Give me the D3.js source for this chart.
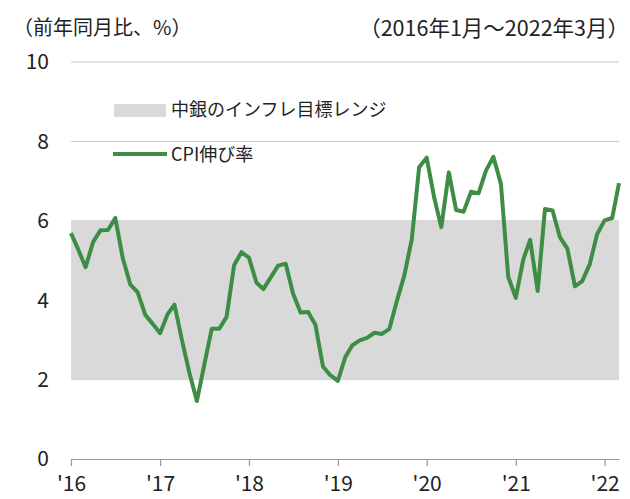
<!DOCTYPE html>
<html>
<head>
<meta charset="utf-8">
<script src="https://cdn.jsdelivr.net/npm/d3@7"></script>
<style>
  body { margin: 0; background: #fff; }
  svg { display: block; font-family: "Noto Sans CJK JP", "Noto Sans", sans-serif; }
</style>
</head>
<body>
<div id="chart"></div>
<script>
// monthly CPI, Jan 2016 .. Mar 2022
const startYear = 2016;
const cpi = [
  5.69, 5.26, 4.83, 5.47, 5.76, 5.77, 6.07, 5.05, 4.39, 4.20, 3.63, 3.41,
  3.17, 3.65, 3.89, 2.99, 2.18, 1.46, 2.36, 3.28, 3.28, 3.58, 4.88, 5.21,
  5.07, 4.44, 4.28, 4.58, 4.87, 4.92, 4.17, 3.69, 3.70, 3.38, 2.33, 2.11,
  1.97, 2.57, 2.86, 2.99, 3.05, 3.18, 3.15, 3.28, 3.99, 4.62, 5.54, 7.35,
  7.59, 6.58, 5.84, 7.22, 6.27, 6.23, 6.73, 6.69, 7.27, 7.61, 6.93, 4.59,
  4.06, 5.03, 5.52, 4.23, 6.30, 6.26, 5.59, 5.30, 4.35, 4.48, 4.91, 5.66,
  6.01, 6.07, 6.95
];
const targetBand = [2, 6];
const yTicks = [0, 2, 4, 6, 8, 10];
const yearTicks = [2016, 2017, 2018, 2019, 2020, 2021, 2022];
const legendLabels = ["中銀のインフレ目標レンジ", "CPI伸び率"];
const unitLabel = "（前年同月比、%）";
const periodLabel = "（2016年1月～2022年3月）";

const width = 630, height = 499;
const plotLeft = 71, plotRight = 619, plotTop = 62, plotBottom = 459;
const green = "#3d8e44";

const data = cpi.map((v, i) => ({ date: new Date(startYear, i, 1), value: v }));

const svg = d3.select("#chart").append("svg")
  .attr("width", width)
  .attr("height", height);

const x = d3.scaleTime()
  .domain([data[0].date, data[data.length - 1].date])
  .range([plotLeft, plotRight]);
const y = d3.scaleLinear().domain([0, 10]).range([plotBottom, plotTop]);

// gridlines
svg.append("g")
  .selectAll("line")
  .data(yTicks.filter(d => d > 0))
  .join("line")
  .attr("x1", plotLeft).attr("x2", plotRight)
  .attr("y1", d => y(d)).attr("y2", d => y(d))
  .attr("stroke", "#c8c8c8")
  .attr("stroke-width", 1);

// target band
svg.append("rect")
  .attr("x", plotLeft)
  .attr("width", plotRight - plotLeft)
  .attr("y", y(targetBand[1]))
  .attr("height", y(targetBand[0]) - y(targetBand[1]))
  .attr("fill", "#d9d9d9");

// y labels
svg.append("g")
  .selectAll("text")
  .data(yTicks)
  .join("text")
  .attr("x", 49)
  .attr("y", d => y(d))
  .attr("dy", "0.35em")
  .attr("text-anchor", "end")
  .attr("font-size", 21)
  .attr("fill", "#222")
  .text(d => d);

// x axis
const xAxis = svg.append("g")
  .attr("transform", `translate(0,${plotBottom})`)
  .call(d3.axisBottom(x)
    .tickValues(yearTicks.map(yr => new Date(yr, 0, 1)))
    .tickFormat(d => "'" + String(d.getFullYear()).slice(2))
    .tickSize(7)
    .tickPadding(10)
    .tickSizeOuter(0));
xAxis.select(".domain").attr("stroke", "#999").attr("stroke-width", 1.2);
xAxis.selectAll(".tick line").attr("stroke", "#999").attr("stroke-width", 1.2);
xAxis.selectAll(".tick text")
  .attr("font-size", 21)
  .attr("font-family", "Noto Sans CJK JP, sans-serif")
  .attr("fill", "#222");

// CPI line
const line = d3.line()
  .x(d => x(d.date))
  .y(d => y(d.value));

svg.append("path")
  .datum(data)
  .attr("fill", "none")
  .attr("stroke", green)
  .attr("stroke-width", 4)
  .attr("stroke-linejoin", "round")
  .attr("d", line);

// legend
const lg = svg.append("g");
lg.append("rect")
  .attr("x", 114).attr("y", 104)
  .attr("width", 52).attr("height", 13)
  .attr("fill", "#d9d9d9");
lg.append("line")
  .attr("x1", 113).attr("x2", 167)
  .attr("y1", 154).attr("y2", 154)
  .attr("stroke", green)
  .attr("stroke-width", 4);
lg.selectAll("text")
  .data(legendLabels)
  .join("text")
  .attr("x", 171)
  .attr("y", (d, i) => i === 0 ? 110 : 155)
  .attr("dy", "0.35em")
  .attr("font-size", 18)
  .attr("fill", "#222")
  .text(d => d);

// header labels
svg.append("text")
  .attr("x", 13).attr("y", 28)
  .attr("dy", "0.35em")
  .attr("font-size", 20)
  .attr("fill", "#222")
  .text(unitLabel);

svg.append("text")
  .attr("x", 629).attr("y", 28)
  .attr("dy", "0.35em")
  .attr("text-anchor", "end")
  .attr("font-size", 21.5)
  .attr("fill", "#222")
  .text(periodLabel);
</script>
</body>
</html>
